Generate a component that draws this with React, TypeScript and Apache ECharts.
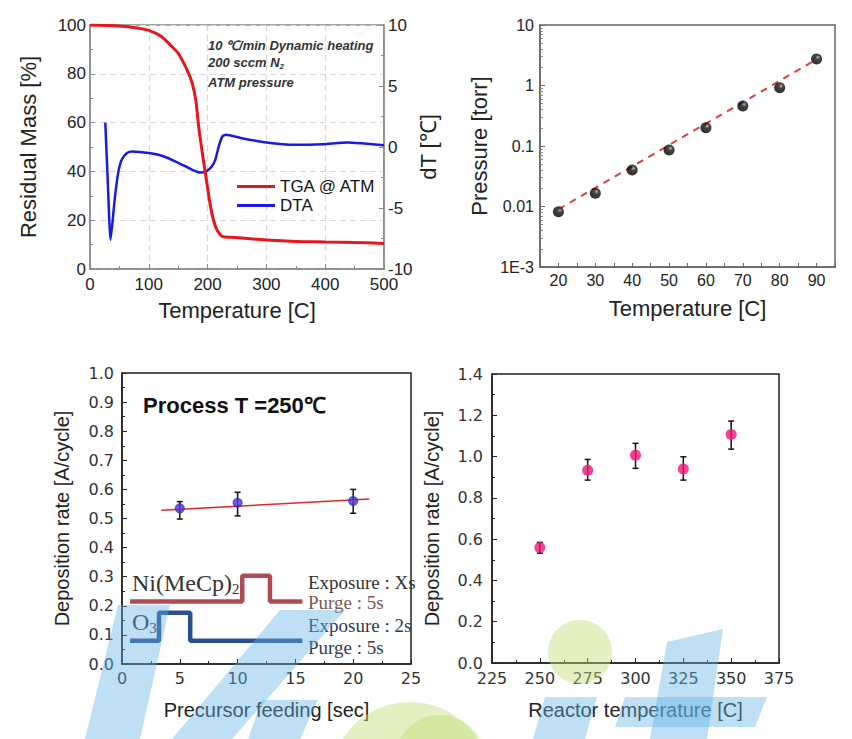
import React, { useEffect, useRef } from "react";
import * as echarts from "echarts";

// ---------- Panel 1: TGA / DTA ----------
const tgaTemp = [0, 50, 80, 100, 120, 140, 150, 165, 174, 180, 185, 192, 198, 204, 210, 216, 225, 240, 300, 350, 400, 450, 500];
const tgaMass = [100, 99.6, 98.8, 97.8, 95.5, 91, 88.4, 81.6, 76, 69, 58, 46, 36.5, 27, 20, 16, 13.4, 13, 11.9, 11.3, 11.1, 10.9, 10.5];
const dtaTemp = [26, 30, 35, 42, 48, 54, 63, 72, 100, 126, 150, 174, 189, 198, 207, 213, 219, 225, 231, 258, 300, 348, 396, 438, 462, 500];
const dtaVal = [2.0, -2.5, -7.6, -4.3, -2.1, -1.05, -0.5, -0.37, -0.5, -0.78, -1.3, -1.87, -2.1, -2.0, -1.6, -1.05, 0.05, 0.86, 1.0, 0.72, 0.37, 0.18, 0.23, 0.37, 0.3, 0.15];
const p1XTicks = [0, 500, 100];
const p1YLeft = [0, 100, 20];
const p1YRight = [-10, 10, 5];

// ---------- Panel 2: vapor pressure ----------
const vpTemp = [20, 30, 40, 50, 60, 70, 80, 90];
const vpPressure = [0.0082, 0.0165, 0.04, 0.086, 0.2, 0.46, 0.92, 2.74];
const vpFitTemp = [20, 90];
const vpFitPressure = [0.009, 2.7];

// ---------- Panel 3: deposition vs precursor feeding ----------
const feedTime = [5, 10, 20];
const feedRate = [0.535, 0.554, 0.56];
const feedErrLow = [0.498, 0.509, 0.518];
const feedErrHigh = [0.558, 0.59, 0.6];
const feedFitX = [3.4, 21.4];
const feedFitY = [0.528, 0.567];
const niPulseX = [0.7, 10.4, 10.4, 12.8, 12.8, 15.6];
const niPulseY = [0.215, 0.215, 0.303, 0.303, 0.215, 0.215];
const o3PulseX = [0.7, 3.2, 3.2, 5.9, 5.9, 15.6];
const o3PulseY = [0.08, 0.08, 0.176, 0.176, 0.08, 0.08];

// ---------- Panel 4: deposition vs reactor temperature ----------
const reactorTemp = [250, 275, 300, 325, 350];
const reactorRate = [0.56, 0.934, 1.007, 0.94, 1.107];
const reactorErrLow = [0.532, 0.886, 0.943, 0.886, 1.036];
const reactorErrHigh = [0.584, 0.986, 1.064, 0.999, 1.172];

const SANS = "'Liberation Sans', Arial, sans-serif";
const WIDE = "'DejaVu Sans', sans-serif";
const SERIF = "'Liberation Serif', 'Times New Roman', serif";

const zip = (a: number[], b: number[]) => a.map((v, i) => [v, b[i]]);

function errBar(params: any, api: any) {
  const x = api.value(0);
  const lo = api.value(1);
  const hi = api.value(2);
  const pH = api.coord([x, hi]);
  const pL = api.coord([x, lo]);
  const w = 3;
  const st = { stroke: "#111", lineWidth: 1.5 };
  return {
    type: "group",
    children: [
      { type: "line", shape: { x1: pH[0], y1: pH[1], x2: pL[0], y2: pL[1] }, style: st },
      { type: "line", shape: { x1: pH[0] - w, y1: pH[1], x2: pH[0] + w, y2: pH[1] }, style: st },
      { type: "line", shape: { x1: pL[0] - w, y1: pL[1], x2: pL[0] + w, y2: pL[1] }, style: st },
    ],
  };
}

export default function App() {
  const ref = useRef<HTMLDivElement>(null);
  useEffect(() => {
    if (!ref.current) return;
    const chart = echarts.init(ref.current, undefined, { renderer: "svg" });

    const tickLabel = (size: number, fam: string, margin: number, extra: any = {}) => ({
      fontSize: size,
      fontFamily: fam,
      color: "#222",
      margin,
      ...extra,
    });
    const nameStyle = (size: number) => ({ fontSize: size, fontFamily: SANS, color: "#222" });
    const line = (c: string) => ({ lineStyle: { color: c, width: 1.5 } });
    const blue = "rgba(100,178,228,0.42)";
    const green = "rgba(195,222,120,0.45)";

    const option: any = {
      animation: false,
      backgroundColor: "#fff",
      grid: [
        { left: 90, top: 25, width: 294, height: 244, show: true, borderColor: "#888", borderWidth: 1.5 },
        { left: 540, top: 25, width: 295, height: 242, show: true, borderColor: "#666", borderWidth: 1.5 },
        { left: 122, top: 373, width: 289, height: 291, show: true, borderColor: "#222", borderWidth: 1.5 },
        { left: 492, top: 374, width: 287, height: 289, show: true, borderColor: "#222", borderWidth: 1.5 },
      ],
      xAxis: [
        {
          gridIndex: 0, type: "value", min: p1XTicks[0], max: p1XTicks[1], interval: p1XTicks[2],
          axisLine: line("#888"), axisTick: { inside: true, length: 5, lineStyle: { color: "#888" } },
          minorTick: { show: true, splitNumber: 2, length: 3, lineStyle: { color: "#888" } },
          axisLabel: tickLabel(17, SANS, 7),
          splitLine: { show: true, lineStyle: { color: "#d8d8d8", type: [6, 4], width: 1.2 } },
          name: "Temperature [C]", nameLocation: "middle", nameGap: 30, nameTextStyle: nameStyle(22),
        },
        {
          gridIndex: 1, type: "value", min: 15, max: 95, interval: 5,
          axisLine: line("#666"), axisTick: { inside: true, length: 4, lineStyle: { color: "#666" } },
          axisLabel: tickLabel(16, SANS, 5, { formatter: (v: number) => (v % 10 === 0 ? String(v) : "") }),
          splitLine: { show: false },
          name: "Temperature [C]", nameLocation: "middle", nameGap: 30, nameTextStyle: nameStyle(22),
        },
        {
          gridIndex: 2, type: "value", min: 0, max: 25, interval: 5,
          axisLine: line("#222"), axisTick: { inside: true, length: 5, lineStyle: { color: "#222" } },
          minorTick: { show: true, splitNumber: 2, length: 3, lineStyle: { color: "#222" } },
          axisLabel: tickLabel(16, WIDE, 6, { color: "#333" }),
          splitLine: { show: false },
          name: "Precursor feeding [sec]", nameLocation: "middle", nameGap: 36, nameTextStyle: nameStyle(20),
        },
        {
          gridIndex: 3, type: "value", min: 225, max: 375, interval: 25,
          axisLine: line("#222"), axisTick: { inside: true, length: 5, lineStyle: { color: "#222" } },
          minorTick: { show: true, splitNumber: 2, length: 3, lineStyle: { color: "#222" } },
          axisLabel: tickLabel(16, WIDE, 7, { color: "#333" }),
          splitLine: { show: false },
          name: "Reactor temperature [C]", nameLocation: "middle", nameGap: 37, nameTextStyle: nameStyle(20),
        },
      ],
      yAxis: [
        {
          gridIndex: 0, type: "value", min: p1YLeft[0], max: p1YLeft[1], interval: p1YLeft[2],
          axisLine: line("#888"), axisTick: { inside: true, length: 5, lineStyle: { color: "#888" } },
          minorTick: { show: true, splitNumber: 2, length: 3, lineStyle: { color: "#888" } },
          axisLabel: tickLabel(17, SANS, 4),
          splitLine: { show: true, lineStyle: { color: "#d8d8d8", type: [6, 4], width: 1.2 } },
          name: "Residual Mass [%]", nameLocation: "middle", nameGap: 51, nameRotate: 90, nameTextStyle: nameStyle(22),
        },
        {
          gridIndex: 0, type: "value", position: "right", min: p1YRight[0], max: p1YRight[1], interval: p1YRight[2],
          axisLine: line("#888"), axisTick: { inside: true, length: 5, lineStyle: { color: "#888" } },
          minorTick: { show: true, splitNumber: 2, length: 3, lineStyle: { color: "#888" } },
          axisLabel: tickLabel(17, SANS, 4),
          splitLine: { show: false },
          name: "dT [℃]", nameLocation: "middle", nameGap: 33, nameRotate: 90, nameTextStyle: nameStyle(22),
        },
        {
          gridIndex: 1, type: "log", logBase: 10, min: 0.001, max: 10,
          axisLine: line("#666"), axisTick: { inside: true, length: 5, lineStyle: { color: "#666" } },
          minorTick: { show: true, splitNumber: 9, length: 3, lineStyle: { color: "#888" } },
          axisLabel: tickLabel(16, SANS, 6, {
            formatter: (v: number) => {
              const e = Math.round(Math.log10(v));
              return ({ "-3": "1E-3", "-2": "0.01", "-1": "0.1", "0": "1", "1": "10" } as any)[String(e)] || "";
            },
          }),
          splitLine: { show: false },
          name: "Pressure [torr]", nameLocation: "middle", nameGap: 50, nameRotate: 90, nameTextStyle: nameStyle(22),
        },
        {
          gridIndex: 2, type: "value", min: 0, max: 1, interval: 0.1,
          axisLine: line("#222"), axisTick: { inside: true, length: 5, lineStyle: { color: "#222" } },
          minorTick: { show: true, splitNumber: 2, length: 3, lineStyle: { color: "#222" } },
          axisLabel: tickLabel(16, WIDE, 8, { color: "#333", formatter: (v: number) => v.toFixed(1) }),
          splitLine: { show: false },
          name: "Deposition rate [A/cycle]", nameLocation: "middle", nameGap: 50, nameRotate: 90, nameTextStyle: nameStyle(20),
        },
        {
          gridIndex: 3, type: "value", min: 0, max: 1.4, interval: 0.2,
          axisLine: line("#222"), axisTick: { inside: true, length: 5, lineStyle: { color: "#222" } },
          minorTick: { show: true, splitNumber: 2, length: 3, lineStyle: { color: "#222" } },
          axisLabel: tickLabel(16, WIDE, 9, { color: "#333", formatter: (v: number) => v.toFixed(1) }),
          splitLine: { show: false },
          name: "Deposition rate [A/cycle]", nameLocation: "middle", nameGap: 50, nameRotate: 90, nameTextStyle: nameStyle(20),
        },
      ],
      legend: {
        data: [
          { name: "TGA @ ATM", icon: "rect" },
          { name: "DTA", icon: "rect" },
        ],
        orient: "vertical",
        left: 232,
        top: 173,
        itemWidth: 38,
        itemHeight: 3,
        itemGap: 2,
        textStyle: { fontSize: 17, fontFamily: SANS, color: "#111", lineHeight: 17 },
      },
      series: [
        {
          name: "TGA @ ATM", type: "line", xAxisIndex: 0, yAxisIndex: 0, data: zip(tgaTemp, tgaMass),
          symbol: "none", smooth: 0.3, lineStyle: { color: "#e8161b", width: 3 }, itemStyle: { color: "#e8161b" }, z: 4,
        },
        {
          name: "DTA", type: "line", xAxisIndex: 0, yAxisIndex: 1, data: zip(dtaTemp, dtaVal),
          symbol: "none", smooth: 0.2, lineStyle: { color: "#1a1ae0", width: 2.5 }, itemStyle: { color: "#1a1ae0" }, z: 3,
        },
        {
          name: "vpfit", type: "line", xAxisIndex: 1, yAxisIndex: 2, data: zip(vpFitTemp, vpFitPressure),
          symbol: "none", lineStyle: { color: "#d94040", width: 2, type: [7, 6] }, z: 2,
        },
        {
          name: "vp", type: "scatter", xAxisIndex: 1, yAxisIndex: 2, data: zip(vpTemp, vpPressure),
          symbolSize: 11,
          itemStyle: {
            color: new echarts.graphic.RadialGradient(0.62, 0.35, 0.6, [
              { offset: 0, color: "#aaaaaa" },
              { offset: 0.35, color: "#151515" },
              { offset: 1, color: "#000" },
            ]),
          },
          z: 3,
        },
        {
          name: "ni", type: "line", xAxisIndex: 2, yAxisIndex: 3, data: zip(niPulseX, niPulseY),
          symbol: "none", lineStyle: { color: "#b04a55", width: 4.5 }, z: 2,
        },
        {
          name: "o3", type: "line", xAxisIndex: 2, yAxisIndex: 3, data: zip(o3PulseX, o3PulseY),
          symbol: "none", lineStyle: { color: "#2a5090", width: 4.5 }, z: 2,
        },
        {
          name: "feedfit", type: "line", xAxisIndex: 2, yAxisIndex: 3, data: zip(feedFitX, feedFitY),
          symbol: "none", lineStyle: { color: "#e02828", width: 1.5 }, z: 2,
        },
        {
          name: "feederr", type: "custom", xAxisIndex: 2, yAxisIndex: 3, renderItem: errBar,
          data: feedTime.map((t, i) => [t, feedErrLow[i], feedErrHigh[i]]), encode: { x: 0, y: [1, 2] }, z: 3,
        },
        {
          name: "feed", type: "scatter", xAxisIndex: 2, yAxisIndex: 3, data: zip(feedTime, feedRate),
          symbolSize: 10,
          itemStyle: {
            color: new echarts.graphic.RadialGradient(0.5, 0.5, 0.5, [
              { offset: 0, color: "#7a3ad8" },
              { offset: 1, color: "#2222d0" },
            ]),
          },
          z: 4,
        },
        {
          name: "reactorerr", type: "custom", xAxisIndex: 3, yAxisIndex: 4, renderItem: errBar,
          data: reactorTemp.map((t, i) => [t, reactorErrLow[i], reactorErrHigh[i]]), encode: { x: 0, y: [1, 2] }, z: 3,
        },
        {
          name: "reactor", type: "scatter", xAxisIndex: 3, yAxisIndex: 4, data: zip(reactorTemp, reactorRate),
          symbolSize: 11, itemStyle: { color: "#f2137a" }, z: 4,
        },
      ],
      graphic: [
        // annotation panel 1
        {
          type: "text", x: 208, y: 45,
          style: { text: "10 ℃/min Dynamic heating", fontSize: 13, fontWeight: "bold", fontStyle: "italic", fontFamily: SANS, fill: "#333", verticalAlign: "middle" },
        },
        {
          type: "text", x: 208, y: 62,
          style: {
            text: "{a|200 sccm N}{s|2}",
            verticalAlign: "middle",
            rich: {
              a: { fontSize: 13, fontWeight: "bold", fontStyle: "italic", fontFamily: SANS, fill: "#333", lineHeight: 16 },
              s: { fontSize: 8, fontWeight: "bold", fontStyle: "italic", fontFamily: SANS, fill: "#333", lineHeight: 8, verticalAlign: "bottom" },
            },
          },
        },
        {
          type: "text", x: 208, y: 82,
          style: { text: "ATM pressure", fontSize: 13, fontWeight: "bold", fontStyle: "italic", fontFamily: SANS, fill: "#333", verticalAlign: "middle" },
        },
        // panel 3 title
        {
          type: "text", x: 143, y: 405,
          style: { text: "Process T =250℃", fontSize: 22, fontWeight: "bold", fontFamily: SANS, fill: "#111", verticalAlign: "middle" },
        },
        {
          type: "text", x: 132, y: 583,
          style: {
            text: "{a|Ni(MeCp)}{s|2}",
            verticalAlign: "middle",
            rich: {
              a: { fontSize: 24, fontFamily: SERIF, fill: "#333", lineHeight: 26 },
              s: { fontSize: 15, fontFamily: SERIF, fill: "#333", lineHeight: 15, verticalAlign: "bottom" },
            },
          },
        },
        {
          type: "text", x: 132, y: 622,
          style: {
            text: "{a|O}{s|3}",
            verticalAlign: "middle",
            rich: {
              a: { fontSize: 24, fontFamily: SERIF, fill: "#333", lineHeight: 26 },
              s: { fontSize: 15, fontFamily: SERIF, fill: "#333", lineHeight: 15, verticalAlign: "bottom" },
            },
          },
        },
        { type: "text", x: 308, y: 582, style: { text: "Exposure : Xs", fontSize: 19, fontFamily: SERIF, fill: "#333", verticalAlign: "middle" } },
        { type: "text", x: 308, y: 602, style: { text: "Purge : 5s", fontSize: 19, fontFamily: SERIF, fill: "#7a5a55", verticalAlign: "middle" } },
        { type: "text", x: 308, y: 625, style: { text: "Exposure : 2s", fontSize: 19, fontFamily: SERIF, fill: "#2d3a55", verticalAlign: "middle" } },
        { type: "text", x: 308, y: 647, style: { text: "Purge : 5s", fontSize: 19, fontFamily: SERIF, fill: "#3a3a4a", verticalAlign: "middle" } },
        // watermark (KEIT logo, faint)
        { type: "polygon", z: 100, silent: true, shape: { points: [[118, 605], [170, 605], [140, 739], [85, 739]] }, style: { fill: blue } },
        { type: "polygon", z: 100, silent: true, shape: { points: [[172, 739], [232, 739], [345, 610], [280, 610]] }, style: { fill: blue } },
        { type: "polygon", z: 100, silent: true, shape: { points: [[248, 739], [300, 739], [318, 700], [262, 700]] }, style: { fill: blue } },
        { type: "circle", z: 100, silent: true, shape: { cx: 410, cy: 782, r: 80 }, style: { fill: green } },
        { type: "circle", z: 100, silent: true, shape: { cx: 580, cy: 652, r: 32 }, style: { fill: green } },
        { type: "polygon", z: 100, silent: true, shape: { points: [[545, 697], [597, 697], [585, 739], [533, 739]] }, style: { fill: blue } },
        { type: "polygon", z: 100, silent: true, shape: { points: [[667, 642], [723, 629], [707, 739], [650, 739]] }, style: { fill: blue } },
        { type: "polygon", z: 100, silent: true, shape: { points: [[625, 697], [767, 697], [755, 727], [615, 727]] }, style: { fill: blue } },
        { type: "circle", z: 100, silent: true, shape: { cx: 440, cy: 760, r: 45 }, style: { fill: green } },
      ],
    };
    chart.setOption(option);
    return () => chart.dispose();
  }, []);
  return (
    <div
      ref={ref}
      style={{ position: "fixed", left: 0, top: 0, width: 852, height: 739, background: "#fff" }}
    />
  );
}
